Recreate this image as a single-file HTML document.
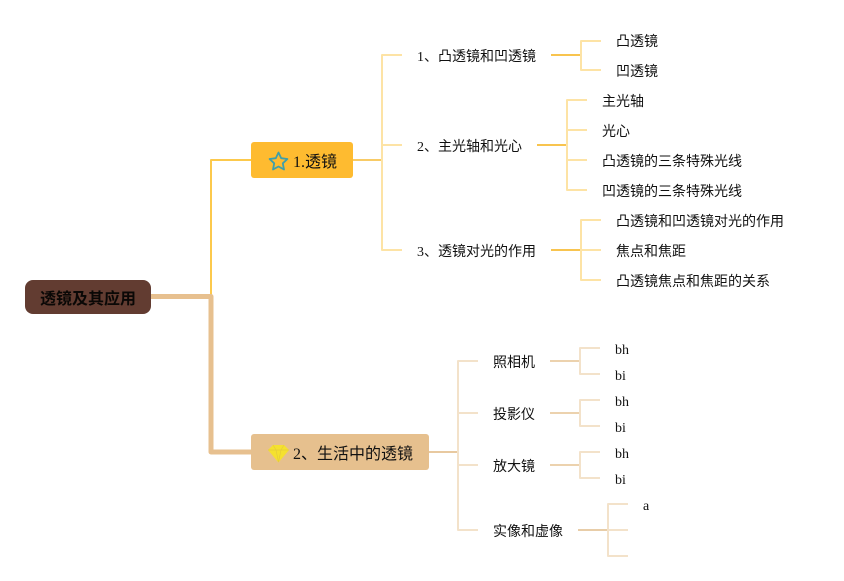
<!DOCTYPE html>
<html><head><meta charset="utf-8">
<style>
html,body{margin:0;padding:0;background:#fff}
svg{display:block}
text{font-family:"Liberation Serif","Noto Sans CJK SC",sans-serif;font-size:14px;fill:#111}
</style></head>
<body>
<svg width="844" height="581" viewBox="0 0 844 581" xmlns="http://www.w3.org/2000/svg">
<g fill="none" stroke-linejoin="round">
<path d="M211 296V160H251" stroke="#fbc02d" stroke-width="2" opacity=".85"/>
<path d="M151 296.500H211V452H251" stroke="#e7c08f" stroke-width="5"/>
<path d="M353 160H382" stroke="#f8cb66" stroke-width="2"/>
<path d="M402 55H382V250H402M382 145H402" stroke="#fde3a5" stroke-width="2"/>
<path d="M551 55H581" stroke="#f8c44f" stroke-width="2"/>
<path d="M601 41H581V70H601" stroke="#fde3a5" stroke-width="2"/>
<path d="M537 145H567" stroke="#f8c44f" stroke-width="2"/>
<path d="M587 100H567V190H587M567 130H587M567 160H587" stroke="#fde3a5" stroke-width="2"/>
<path d="M551 250H581" stroke="#f8c44f" stroke-width="2"/>
<path d="M601 220H581V280H601M581 250H601" stroke="#fde3a5" stroke-width="2"/>
<path d="M429 452H458" stroke="#e8c9a0" stroke-width="2"/>
<path d="M478 361H458V530H478M458 413H478M458 465H478" stroke="#f3e2ca" stroke-width="2"/>
<path d="M550 361H580M550 413H580M550 465H580" stroke="#ecd2ae" stroke-width="2"/>
<path d="M600 348H580V374H600M600 400H580V426H600M600 452H580V478H600" stroke="#f3e2ca" stroke-width="2"/>
<path d="M578 530H608" stroke="#e8cda8" stroke-width="2"/>
<path d="M628 504H608V556H628M608 530H628" stroke="#f3e2ca" stroke-width="2"/>
</g>

<rect x="25" y="280" width="126" height="34" rx="8" fill="#623c31"/>
<text x="40" y="304" style="font-size:16px;font-weight:bold;fill:#0a0806">透镜及其应用</text>

<rect x="251" y="142" width="102" height="36" rx="3" fill="#febb30"/>
<path d="M278.500 152.500l2.700 5.700 6.200.8-4.600 4.300 1.200 6.200-5.500-3-5.500 3 1.200-6.200-4.600-4.300 6.200-.8z" fill="none" stroke="#3f9faa" stroke-width="1.800" stroke-linejoin="round"/>
<text x="293" y="167" style="font-size:16px">1.透镜</text>

<rect x="251" y="434" width="178" height="36" rx="3" fill="#e6c08e"/>
<path d="M273 445h11l5 5-10.500 12.500L268 450z" fill="#f5e12f"/>
<path d="M268 450h21M273 445l3 5 2.500 12 2.500-12 3-5" fill="none" stroke="#e5cc3a" stroke-width=".7"/>
<text x="293" y="459" style="font-size:16px">2、生活中的透镜</text>

<text x="417" y="61">1、凸透镜和凹透镜</text>
<text x="417" y="151">2、主光轴和光心</text>
<text x="417" y="256">3、透镜对光的作用</text>

<text x="616" y="46">凸透镜</text>
<text x="616" y="76">凹透镜</text>
<text x="602" y="106">主光轴</text>
<text x="602" y="136">光心</text>
<text x="602" y="166">凸透镜的三条特殊光线</text>
<text x="602" y="196">凹透镜的三条特殊光线</text>
<text x="616" y="226">凸透镜和凹透镜对光的作用</text>
<text x="616" y="256">焦点和焦距</text>
<text x="616" y="286">凸透镜焦点和焦距的关系</text>

<text x="493" y="367">照相机</text>
<text x="493" y="419">投影仪</text>
<text x="493" y="471">放大镜</text>
<text x="493" y="536">实像和虚像</text>

<text x="615" y="354">bh</text>
<text x="615" y="380">bi</text>
<text x="615" y="406">bh</text>
<text x="615" y="432">bi</text>
<text x="615" y="458">bh</text>
<text x="615" y="484">bi</text>
<text x="643" y="510">a</text>
</svg>
</body></html>
